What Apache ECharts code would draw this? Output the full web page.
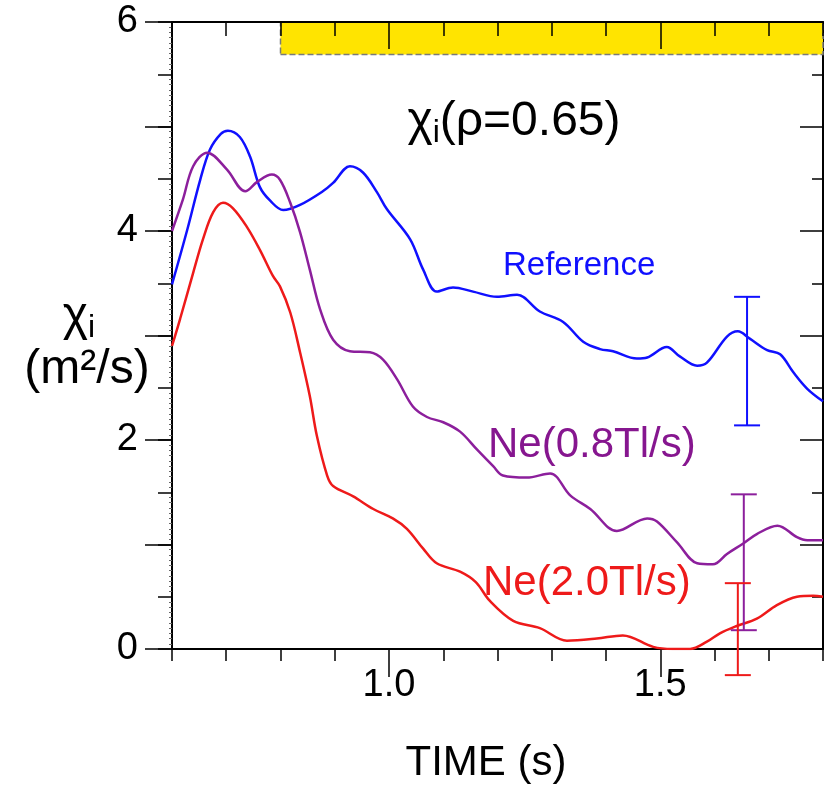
<!DOCTYPE html>
<html>
<head>
<meta charset="utf-8">
<script src="https://cdn.jsdelivr.net/npm/echarts@6/dist/echarts.min.js"></script>
<style>
  html, body { margin: 0; padding: 0; background: #fff; }
  #chart { width: 825px; height: 789px; }
</style>
</head>
<body>
<div id="chart"></div>
<script>
// Ion thermal diffusivity at rho = 0.65 versus time: [time (s), chi_i (m^2/s)]
const referenceChi = [
  [0.600, 3.49], [0.628, 4.01], [0.652, 4.49], [0.670, 4.78], [0.690, 4.93], [0.703, 4.96],
  [0.725, 4.90], [0.744, 4.71], [0.762, 4.42], [0.781, 4.29], [0.805, 4.20], [0.836, 4.25],
  [0.878, 4.38], [0.897, 4.46], [0.928, 4.62], [0.952, 4.56], [0.978, 4.37], [0.996, 4.21],
  [1.039, 3.92], [1.063, 3.63], [1.088, 3.42], [1.118, 3.46], [1.155, 3.42], [1.199, 3.37],
  [1.236, 3.39], [1.278, 3.23], [1.321, 3.13], [1.358, 2.94], [1.389, 2.87], [1.413, 2.85],
  [1.457, 2.78], [1.476, 2.79], [1.512, 2.89], [1.536, 2.80], [1.568, 2.71], [1.586, 2.74],
  [1.623, 2.99], [1.643, 3.04], [1.665, 2.97], [1.697, 2.86], [1.721, 2.82], [1.745, 2.65],
  [1.771, 2.49], [1.800, 2.37]
];
const neon08Chi = [
  [0.600, 4.00], [0.620, 4.30], [0.639, 4.62], [0.665, 4.75], [0.701, 4.59], [0.735, 4.38],
  [0.757, 4.47], [0.784, 4.54], [0.799, 4.49], [0.818, 4.27], [0.836, 3.99], [0.854, 3.63],
  [0.873, 3.25], [0.897, 2.96], [0.928, 2.85], [0.965, 2.84], [0.989, 2.77], [1.015, 2.58],
  [1.044, 2.32], [1.070, 2.22], [1.100, 2.17], [1.131, 2.08], [1.162, 1.91], [1.192, 1.75],
  [1.210, 1.66], [1.254, 1.64], [1.297, 1.68], [1.334, 1.47], [1.371, 1.34], [1.420, 1.13],
  [1.476, 1.25], [1.494, 1.22], [1.531, 1.02], [1.568, 0.82], [1.597, 0.81], [1.623, 0.91],
  [1.653, 1.01], [1.678, 1.10], [1.716, 1.18], [1.752, 1.07], [1.771, 1.04], [1.800, 1.04]
];
const neon20Chi = [
  [0.600, 2.90], [0.615, 3.16], [0.639, 3.60], [0.657, 3.92], [0.676, 4.18], [0.694, 4.27],
  [0.712, 4.22], [0.738, 4.04], [0.762, 3.82], [0.786, 3.57], [0.799, 3.47], [0.818, 3.22],
  [0.836, 2.84], [0.854, 2.42], [0.867, 2.04], [0.886, 1.66], [0.897, 1.56], [0.934, 1.46],
  [0.971, 1.34], [1.007, 1.25], [1.033, 1.15], [1.063, 0.96], [1.088, 0.82], [1.131, 0.74],
  [1.160, 0.64], [1.186, 0.46], [1.229, 0.27], [1.278, 0.20], [1.328, 0.08], [1.383, 0.10],
  [1.431, 0.13], [1.487, 0.02], [1.523, 0.00], [1.555, 0.00], [1.586, 0.07], [1.610, 0.15],
  [1.641, 0.22], [1.678, 0.29], [1.715, 0.42], [1.752, 0.50], [1.782, 0.51], [1.800, 0.50]
];

// Uncertainty bars: [time, low, high]
const referenceErr = [[1.660, 2.14, 3.37]];
const neon08Err = [[1.654, 0.18, 1.48]];
const neon20Err = [[1.643, -0.25, 0.63]];

// Neon puff window (s)
const puffWindow = [0.8, 1.8];

// Labelled ticks
const xLabelValues = [1.0, 1.5];
const yLabelValues = [0, 2, 4, 6];
const yMajorValues = [0, 1, 2, 3, 4, 5, 6];

const FONT = "'Liberation Sans', Arial, Helvetica, sans-serif";
const BLUE = '#1010ff';
const PURPLE = '#8c1f9c';
const PURPLE_TEXT = '#86168f';
const RED = '#ee1a1a';

const chart = echarts.init(document.getElementById('chart'), null, { renderer: 'canvas' });

const axisLineStyle = { color: '#000', width: 2 };
const tickLineStyle = { color: '#000', width: 1.5 };

function errorBar(color) {
  return function (params, api) {
    const x = api.value(0);
    const top = api.coord([x, api.value(2)]);
    const bot = api.coord([x, api.value(1)]);
    const hw = 13;
    const st = { stroke: color, lineWidth: 2 };
    return {
      type: 'group',
      children: [
        { type: 'line', shape: { x1: top[0], y1: top[1], x2: bot[0], y2: bot[1] }, style: st },
        { type: 'line', shape: { x1: top[0] - hw, y1: top[1], x2: top[0] + hw, y2: top[1] }, style: st },
        { type: 'line', shape: { x1: bot[0] - hw, y1: bot[1], x2: bot[0] + hw, y2: bot[1] }, style: st }
      ]
    };
  };
}

const baseX = { type: 'value', min: 0.6, max: 1.8, splitLine: { show: false } };
const baseY = { type: 'value', min: 0, max: 6, splitLine: { show: false } };

const subRich = {
  m: { fontSize: 48, lineHeight: 54, fontFamily: FONT, fill: '#000' },
  s: { fontSize: 32, lineHeight: 18, verticalAlign: 'bottom', fontFamily: FONT, fill: '#000' }
};

const option = {
  backgroundColor: '#fff',
  animation: false,
  grid: { left: 172, right: 2, top: 22, bottom: 138.5, containLabel: false },
  xAxis: [
    Object.assign({}, baseX, {
      position: 'bottom', interval: 0.1,
      axisLine: { show: true, onZero: false, lineStyle: axisLineStyle },
      axisTick: { show: true, inside: false, length: 12, lineStyle: tickLineStyle },
      axisLabel: {
        customValues: xLabelValues, formatter: v => v.toFixed(1),
        margin: 18, fontSize: 38, color: '#000', fontFamily: FONT
      },
      name: 'TIME (s)', nameLocation: 'middle', nameGap: 93,
      nameTextStyle: { fontSize: 42, color: '#000', fontFamily: FONT, padding: [0, 23, 0, 0] }
    }),
    Object.assign({}, baseX, {
      position: 'bottom',
      axisLine: { show: false, onZero: false },
      axisTick: { show: true, inside: false, length: 28, customValues: xLabelValues, lineStyle: tickLineStyle },
      axisLabel: { show: false }
    }),
    Object.assign({}, baseX, {
      position: 'top', interval: 0.1, z: 5,
      axisLine: { show: true, onZero: false, lineStyle: axisLineStyle },
      axisTick: { show: true, inside: true, length: 14, lineStyle: tickLineStyle },
      axisLabel: { show: false }
    }),
    Object.assign({}, baseX, {
      position: 'top', z: 5,
      axisLine: { show: false, onZero: false },
      axisTick: { show: true, inside: true, length: 27, customValues: xLabelValues, lineStyle: tickLineStyle },
      axisLabel: { show: false }
    })
  ],
  yAxis: [
    Object.assign({}, baseY, {
      position: 'left', interval: 0.5,
      axisLine: { show: true, onZero: false, lineStyle: axisLineStyle },
      axisTick: { show: true, inside: false, length: 14, lineStyle: tickLineStyle },
      minorTick: { show: true, splitNumber: 10, length: 3, lineStyle: { color: '#666', width: 1 } },
      axisLabel: {
        customValues: yLabelValues, margin: 34, fontSize: 38, color: '#000', fontFamily: FONT
      }
    }),
    Object.assign({}, baseY, {
      position: 'left',
      axisLine: { show: false, onZero: false },
      axisTick: { show: true, inside: false, length: 27, customValues: yMajorValues, lineStyle: tickLineStyle },
      axisLabel: { show: false }
    }),
    Object.assign({}, baseY, {
      position: 'right', interval: 0.5,
      axisLine: { show: true, onZero: false, lineStyle: axisLineStyle },
      axisTick: { show: true, inside: true, length: 11, lineStyle: tickLineStyle },
      axisLabel: { show: false }
    }),
    Object.assign({}, baseY, {
      position: 'right',
      axisLine: { show: false, onZero: false },
      axisTick: { show: true, inside: true, length: 23, customValues: yMajorValues, lineStyle: tickLineStyle },
      axisLabel: { show: false }
    })
  ],
  series: [
    {
      name: 'Reference', type: 'line', data: referenceChi, smooth: 0.35, showSymbol: false,
      lineStyle: { color: BLUE, width: 2.5 }, z: 3,
      markArea: {
        silent: true,
        itemStyle: { color: '#ffe400', borderColor: '#7a7a7a', borderWidth: 1.5, borderType: 'dashed' },
        data: [[{ coord: [puffWindow[0], 5.69] }, { coord: [puffWindow[1], 6] }]]
      }
    },
    {
      name: 'Ne(0.8Tl/s)', type: 'line', data: neon08Chi, smooth: 0.35, showSymbol: false,
      lineStyle: { color: PURPLE, width: 2.5 }, z: 3
    },
    {
      name: 'Ne(2.0Tl/s)', type: 'line', data: neon20Chi, smooth: 0.35, showSymbol: false,
      lineStyle: { color: RED, width: 2.5 }, z: 3
    },
    { type: 'custom', data: referenceErr, renderItem: errorBar(BLUE), clip: false, z: 4, silent: true },
    { type: 'custom', data: neon08Err, renderItem: errorBar(PURPLE), clip: false, z: 4, silent: true },
    { type: 'custom', data: neon20Err, renderItem: errorBar(RED), clip: false, z: 4, silent: true }
  ],
  graphic: [
    {
      type: 'text', x: 514, y: 122, z: 10,
      style: { text: '{m|χ}{s|i}{m|(ρ=0.65)}', align: 'center', verticalAlign: 'middle', rich: subRich }
    },
    {
      type: 'text', x: 79, y: 317, z: 10,
      style: { text: '{m|χ}{s|i}', align: 'center', verticalAlign: 'middle', rich: subRich }
    },
    {
      type: 'text', x: 87, y: 370, z: 10,
      style: { text: '(m²/s)', align: 'center', verticalAlign: 'middle', fontSize: 48, fontFamily: FONT, fill: '#000' }
    },
    {
      type: 'text', x: 503, y: 266, z: 10,
      style: { text: 'Reference', align: 'left', verticalAlign: 'middle', fontSize: 33, fontFamily: FONT, fill: BLUE }
    },
    {
      type: 'text', x: 488, y: 445, z: 10,
      style: { text: 'Ne(0.8Tl/s)', align: 'left', verticalAlign: 'middle', fontSize: 42, fontFamily: FONT, fill: PURPLE_TEXT }
    },
    {
      type: 'text', x: 483, y: 583, z: 10,
      style: { text: 'Ne(2.0Tl/s)', align: 'left', verticalAlign: 'middle', fontSize: 42, fontFamily: FONT, fill: RED }
    }
  ]
};

chart.setOption(option);
</script>
</body>
</html>
